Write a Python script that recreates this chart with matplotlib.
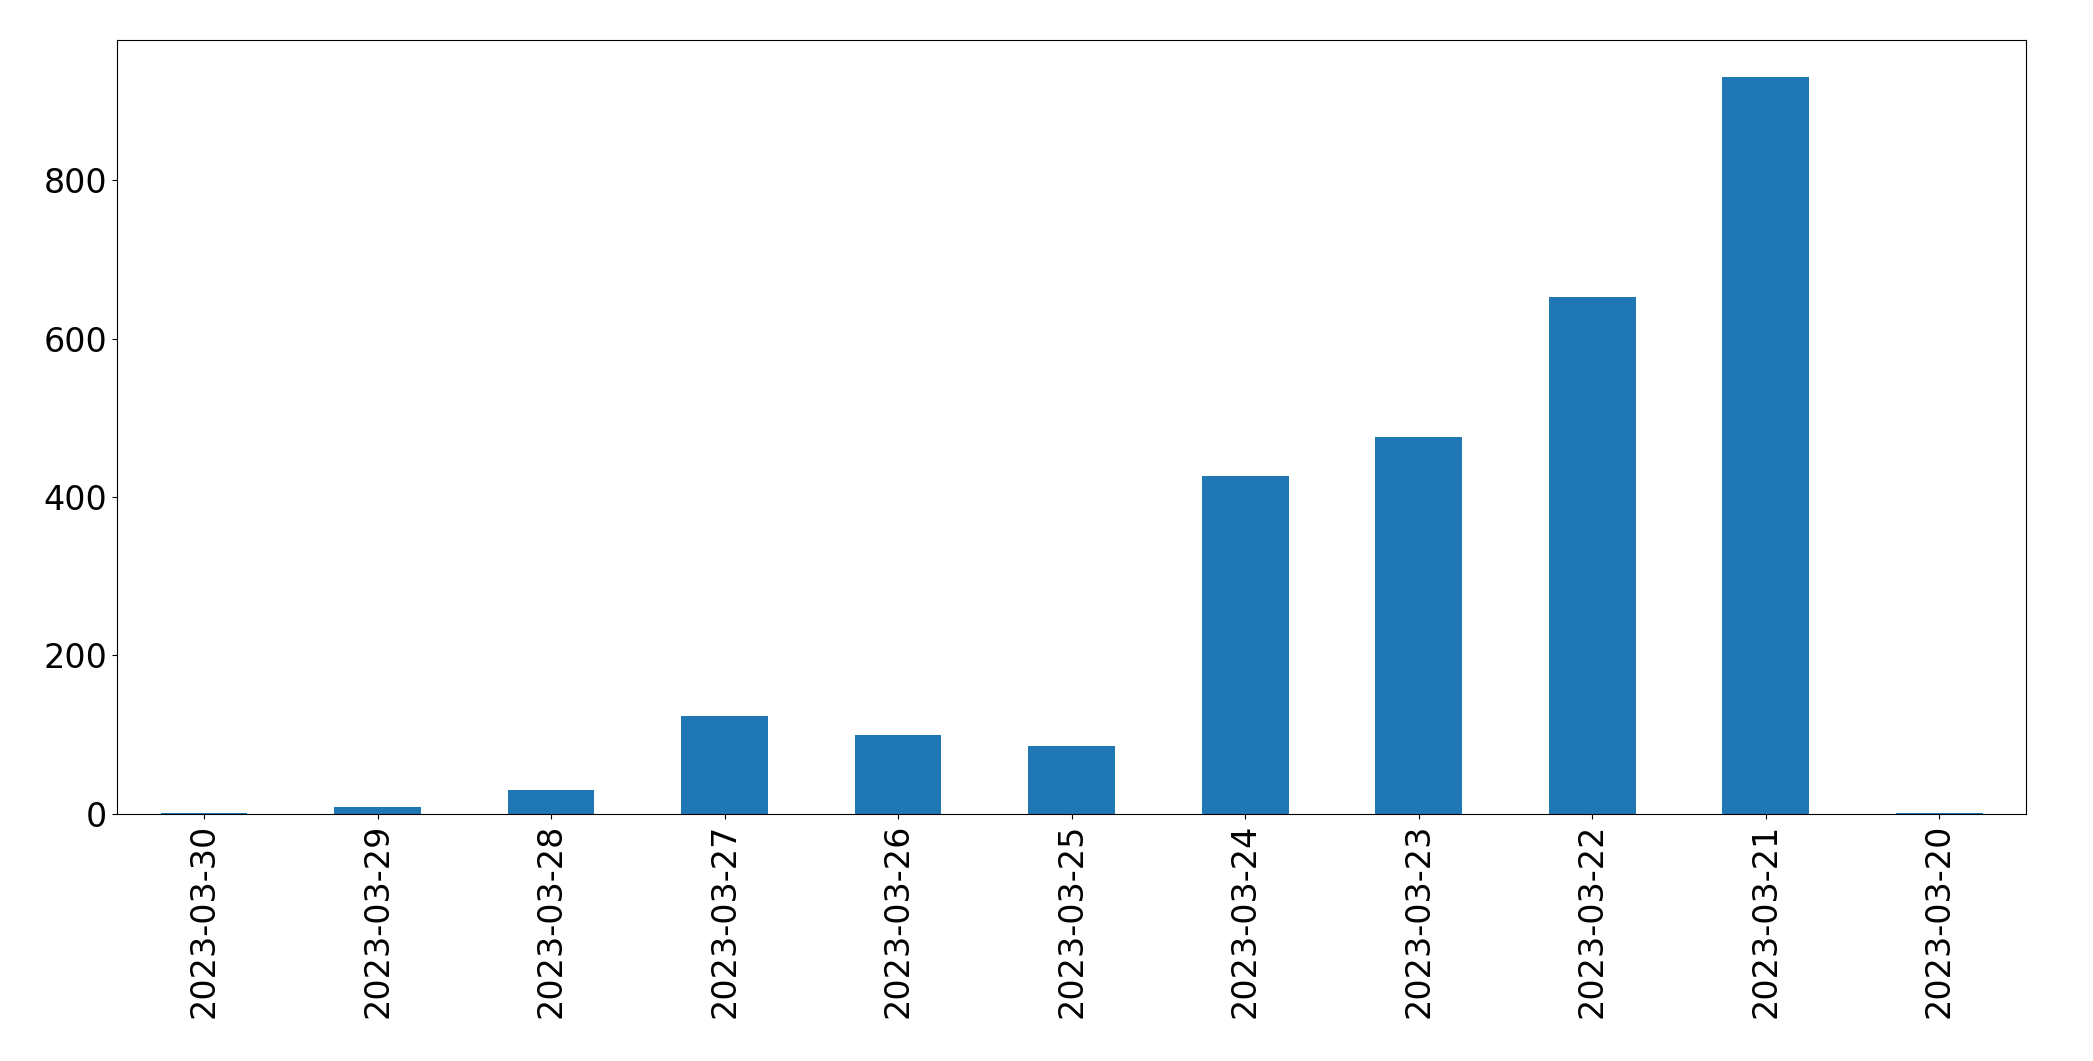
import matplotlib
matplotlib.use("Agg")
import matplotlib.pyplot as plt
import pandas as pd

dates = ["2023-03-30","2023-03-29","2023-03-28","2023-03-27","2023-03-26","2023-03-25",
         "2023-03-24","2023-03-23","2023-03-22","2023-03-21","2023-03-20"]
counts = [1, 8, 30, 124, 100, 86, 427, 476, 652, 930, 1]

fig = plt.figure(figsize=(20.93, 10.61), dpi=100)
ax = fig.add_axes([0.056, 0.233, 0.912, 0.729])
s = pd.Series(counts, index=dates)
s.plot.bar(ax=ax, color="#1f77b4", width=0.5)
ax.tick_params(labelsize=24)
ax.set_yticks([0, 200, 400, 600, 800])
fig.savefig("out.png", dpi=100)
